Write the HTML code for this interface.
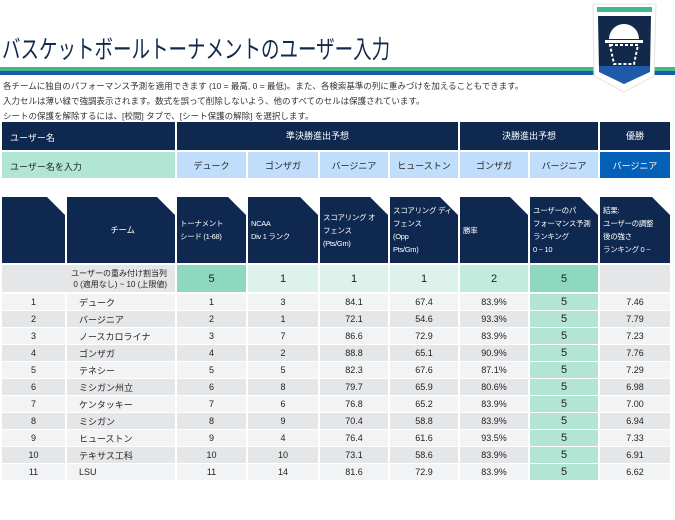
<!DOCTYPE html>
<html><head><meta charset="utf-8"><style>
*{margin:0;padding:0;box-sizing:border-box}
body{width:675px;height:520px;background:#fff;font-family:"Liberation Sans","Noto Sans CJK JP",sans-serif;position:relative;overflow:hidden;color:#222}
.abs{position:absolute}
.g{position:absolute;left:2px;display:grid;grid-template-columns:63px 108px 69px 70px 68px 68px 68px 68px 70px;column-gap:2px}
.g>div{display:flex;align-items:center;justify-content:center;font-size:9px}
.hd>div{background:#0f2850;color:#fff;clip-path:polygon(0 0,calc(100% - 18px) 0,100% 18px,100% 100%,0 100%);justify-content:flex-start;padding-left:3px;line-height:13px;font-size:7.5px;white-space:nowrap;letter-spacing:-0.3px}
.dr{height:16px}
.dr>div{background:#f2f3f4}
.dr.e>div{background:#e5e6e8}
.dr>div:nth-child(2){justify-content:flex-start;padding-left:12px}
.dr>div:nth-child(8){background:#b2e5d4 !important;font-size:11px}
p.t{font-size:8.5px;color:#333;position:absolute;left:3px}
</style></head><body>
<div class="abs" style="left:2px;top:30px;font-size:25px;color:#13294b;transform:scaleX(0.74);transform-origin:left top;white-space:nowrap">バスケットボールトーナメントのユーザー入力</div>
<div class="abs" style="left:0;top:67px;width:675px;height:4px;background:#41b88e"></div>
<div class="abs" style="left:0;top:71px;width:675px;height:4px;background:#1f5aa8"></div>
<svg class="abs" style="left:588px;top:2px" width="72" height="92" viewBox="0 0 72 92">
<path d="M5 2 L68 2 L66 74 L36 90 L6 74 Z" fill="#fff" stroke="#e4e4e4"/>
<rect x="9" y="5" width="55" height="5" fill="#41b88e"/>
<path d="M10 14 L63 14 L62 68 L36 82 L11 68 Z" fill="#13294b"/>
<path d="M11 64 L62 64 L62 70 L36 82 L11 70 Z" fill="#1f5aa8"/>
<path d="M21 37 A15 15 0 0 1 51 37 Z" fill="#fff"/>
<rect x="17" y="38" width="38" height="3" fill="#fff"/>
<path d="M22 43 L50 43 L46 62 L26 62 Z" fill="none" stroke="#fff" stroke-width="2" stroke-dasharray="3 2"/>
</svg>
<p class="t" style="top:80px">各チームに独自のパフォーマンス予測を適用できます (10 = 最高, 0 = 最低)。また、各検索基準の列に重みづけを加えることもできます。</p>
<p class="t" style="top:95px">入力セルは薄い緑で強調表示されます。数式を誤って削除しないよう、他のすべてのセルは保護されています。</p>
<p class="t" style="top:110px">シートの保護を解除するには、[校閲] タブで、[シート保護の解除] を選択します。</p>

<div class="abs" style="left:2px;top:122px;width:173px;height:28px;background:#0f2850;color:#fff;font-size:9px;padding:9px 8px">ユーザー名</div>
<div class="abs" style="left:177px;top:122px;width:281px;height:28px;background:#0f2850;color:#fff;font-size:9px;text-align:center;line-height:28px">準決勝進出予想</div>
<div class="abs" style="left:460px;top:122px;width:138px;height:28px;background:#0f2850;color:#fff;font-size:9px;text-align:center;line-height:28px">決勝進出予想</div>
<div class="abs" style="left:600px;top:122px;width:70px;height:28px;background:#0f2850;color:#fff;font-size:9px;text-align:center;line-height:28px">優勝</div>
<div class="abs" style="left:2px;top:152px;width:173px;height:26px;background:#b1e6d4;font-size:9px;padding:8px">ユーザー名を入力</div>
<div class="g" style="top:152px;height:26px;grid-template-columns:173px 69px 70px 68px 68px 68px 68px 70px">
<div style="visibility:hidden"></div><div style="background:#c0ddfb">デューク</div><div style="background:#c0ddfb">ゴンザガ</div><div style="background:#c0ddfb">バージニア</div><div style="background:#c0ddfb">ヒューストン</div><div style="background:#c0ddfb">ゴンザガ</div><div style="background:#c0ddfb">バージニア</div><div style="background:#0560b8;color:#fff">バージニア</div></div>

<div class="g hd" style="top:197px;height:66px">
<div></div><div style="justify-content:center;font-size:8.5px">チーム</div><div>トーナメント<br>シード (1-68)</div><div>NCAA<br>Div 1 ランク</div><div>スコアリング オ<br>フェンス<br>(Pts/Gm)</div><div>スコアリング ディ<br>フェンス<br>(Opp<br>Pts/Gm)</div><div>勝率</div><div>ユーザーのパ<br>フォーマンス予測<br>ランキング<br>0 ~ 10</div><div>結果:<br>ユーザーの調整<br>後の強さ<br>ランキング 0 ~</div></div>

<div class="abs" style="left:2px;top:265px;width:173px;height:27px;background:#e5e6e8;font-size:8px;text-align:right;padding:3px 8px 0 0;line-height:11px">ユーザーの重み付け割当列<br>0 (適用なし) ~ 10 (上限値)</div>
<div class="g" style="top:265px;height:27px;grid-template-columns:173px 69px 70px 68px 68px 68px 68px 70px">
<div style="visibility:hidden"></div><div style="background:#8dd8be;font-size:11px">5</div><div style="background:#dcf2ea;font-size:11px">1</div><div style="background:#dcf2ea;font-size:11px">1</div><div style="background:#dcf2ea;font-size:11px">1</div><div style="background:#c3ebdd;font-size:11px">2</div><div style="background:#8dd8be;font-size:11px">5</div><div style="background:#e5e6e8"></div></div>

<div class="g dr" style="top:294px"><div>1</div><div>デューク</div><div>1</div><div>3</div><div>84.1</div><div>67.4</div><div>83.9%</div><div>5</div><div>7.46</div></div>
<div class="g dr e" style="top:311px"><div>2</div><div>バージニア</div><div>2</div><div>1</div><div>72.1</div><div>54.6</div><div>93.3%</div><div>5</div><div>7.79</div></div>
<div class="g dr" style="top:328px"><div>3</div><div>ノースカロライナ</div><div>3</div><div>7</div><div>86.6</div><div>72.9</div><div>83.9%</div><div>5</div><div>7.23</div></div>
<div class="g dr e" style="top:345px"><div>4</div><div>ゴンザガ</div><div>4</div><div>2</div><div>88.8</div><div>65.1</div><div>90.9%</div><div>5</div><div>7.76</div></div>
<div class="g dr" style="top:362px"><div>5</div><div>テネシー</div><div>5</div><div>5</div><div>82.3</div><div>67.6</div><div>87.1%</div><div>5</div><div>7.29</div></div>
<div class="g dr e" style="top:379px"><div>6</div><div>ミシガン州立</div><div>6</div><div>8</div><div>79.7</div><div>65.9</div><div>80.6%</div><div>5</div><div>6.98</div></div>
<div class="g dr" style="top:396px"><div>7</div><div>ケンタッキー</div><div>7</div><div>6</div><div>76.8</div><div>65.2</div><div>83.9%</div><div>5</div><div>7.00</div></div>
<div class="g dr e" style="top:413px"><div>8</div><div>ミシガン</div><div>8</div><div>9</div><div>70.4</div><div>58.8</div><div>83.9%</div><div>5</div><div>6.94</div></div>
<div class="g dr" style="top:430px"><div>9</div><div>ヒューストン</div><div>9</div><div>4</div><div>76.4</div><div>61.6</div><div>93.5%</div><div>5</div><div>7.33</div></div>
<div class="g dr e" style="top:447px"><div>10</div><div>テキサス工科</div><div>10</div><div>10</div><div>73.1</div><div>58.6</div><div>83.9%</div><div>5</div><div>6.91</div></div>
<div class="g dr" style="top:464px"><div>11</div><div>LSU</div><div>11</div><div>14</div><div>81.6</div><div>72.9</div><div>83.9%</div><div>5</div><div>6.62</div></div>
</body></html>
